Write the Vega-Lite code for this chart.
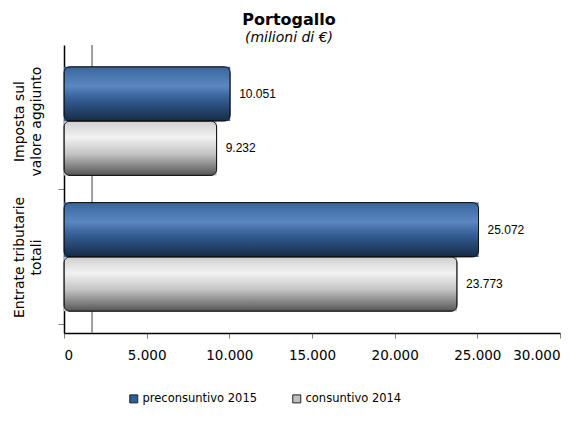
{
  "$schema": "https://vega.github.io/schema/vega-lite/v6.json",
  "width": 496,
  "height": 288,
  "autosize": {"type": "none"},
  "padding": {"left": 64, "top": 45, "right": 20, "bottom": 88},
  "background": "white",
  "config": {
    "locale": {"number": {"decimal": ",", "thousands": ".", "grouping": [3], "currency": ["", " €"]}},
    "view": {"stroke": null},
    "font": "DejaVu Sans"
  },
  "title": {
    "text": "Portogallo",
    "subtitle": "(milioni di €)",
    "font": "DejaVu Sans",
    "fontSize": 16,
    "fontWeight": "bold",
    "color": "black",
    "subtitleFont": "DejaVu Sans",
    "subtitleFontSize": 14,
    "subtitleFontStyle": "italic",
    "subtitleColor": "black",
    "subtitlePadding": 3,
    "anchor": "middle",
    "dx": -23,
    "offset": 0
  },
  "data": {
    "values": [
      {"voce": "Imposta sul valore aggiunto", "serie": "preconsuntivo 2015", "valore": 10051},
      {"voce": "Imposta sul valore aggiunto", "serie": "consuntivo 2014", "valore": 9232},
      {"voce": "Entrate tributarie totali", "serie": "preconsuntivo 2015", "valore": 25072},
      {"voce": "Entrate tributarie totali", "serie": "consuntivo 2014", "valore": 23773}
    ]
  },
  "encoding": {
    "y": {
      "field": "voce",
      "type": "nominal",
      "sort": ["Imposta sul valore aggiunto", "Entrate tributarie totali"],
      "scale": {"paddingInner": 0.2, "paddingOuter": 0.16},
      "axis": {
        "title": null,
        "labelAngle": -90,
        "labelAlign": "center",
        "labelBaseline": "bottom",
        "labelFontSize": 14,
        "labelColor": "black",
        "labelPadding": 32,
        "labelLineHeight": 17,
        "labelExpr": "datum.label == 'Imposta sul valore aggiunto' ? ['Imposta sul', 'valore aggiunto'] : (datum.label == 'Entrate tributarie totali' ? ['Entrate tributarie', 'totali'] : '')",
        "tickOffset": 67.5,
        "labelOffset": -67.5,
        "tickColor": "#808080",
        "tickSize": 6,
        "domainColor": "black",
        "domainWidth": 1.5
      }
    },
    "yOffset": {
      "field": "serie",
      "type": "nominal",
      "sort": ["preconsuntivo 2015", "consuntivo 2014"],
      "scale": {"paddingInner": 0, "paddingOuter": 0}
    },
    "x": {
      "field": "valore",
      "type": "quantitative",
      "scale": {"domain": [0, 30000], "nice": false},
      "axis": {
        "title": null,
        "values": [0, 5000, 10000, 15000, 20000, 25000, 30000],
        "format": ",d",
        "grid": false,
        "labelFontSize": 13.5,
        "labelColor": "black",
        "labelPadding": 10,
        "tickColor": "#808080",
        "tickSize": 5,
        "domainColor": "black",
        "domainWidth": 1.5
      }
    }
  },
  "layer": [
    {
      "mark": {"type": "rule", "color": "#999999", "strokeWidth": 1},
      "encoding": {
        "x": {"datum": 1700, "type": "quantitative"},
        "y": null,
        "yOffset": null
      }
    },
    {
      "mark": {"type": "bar", "opacity": 1},
      "encoding": {
        "color": {
          "field": "serie",
          "type": "nominal",
          "sort": ["preconsuntivo 2015", "consuntivo 2014"],
          "scale": {"domain": ["preconsuntivo 2015", "consuntivo 2014"], "range": ["#2f5f9a", "#c0c0c0"]},
          "legend": {
            "title": null,
            "orient": "none",
            "direction": "horizontal",
            "legendX": 64,
            "legendY": 348,
            "symbolType": "square",
            "symbolSize": 64,
            "symbolStrokeColor": "#222222",
            "symbolStrokeWidth": 1,
            "labelFontSize": 11.5,
            "labelColor": "black",
            "labelOffset": 3,
            "columnPadding": 32
          }
        }
      }
    },
    {
      "transform": [{"filter": "datum.serie == 'preconsuntivo 2015'"}],
      "mark": {
        "type": "bar",
        "cornerRadius": 6,
        "stroke": "#111111",
        "strokeWidth": 1,
        "fill": {
          "gradient": "linear", "x1": 0, "y1": 0, "x2": 0, "y2": 1,
          "stops": [
            {"offset": 0, "color": "#3a659c"},
            {"offset": 0.35, "color": "#5b88c1"},
            {"offset": 0.6, "color": "#335d93"},
            {"offset": 1, "color": "#172a46"}
          ]
        }
      }
    },
    {
      "transform": [{"filter": "datum.serie == 'consuntivo 2014'"}],
      "mark": {
        "type": "bar",
        "cornerRadius": 6,
        "stroke": "#111111",
        "strokeWidth": 1,
        "fill": {
          "gradient": "linear", "x1": 0, "y1": 0, "x2": 0, "y2": 1,
          "stops": [
            {"offset": 0, "color": "#cfcfcf"},
            {"offset": 0.3, "color": "#f2f2f2"},
            {"offset": 0.6, "color": "#c4c4c4"},
            {"offset": 1, "color": "#555555"}
          ]
        }
      }
    },
    {
      "mark": {"type": "text", "align": "left", "baseline": "middle", "dx": 9, "font": "Liberation Sans", "fontSize": 12, "color": "black"},
      "encoding": {
        "text": {"field": "valore", "type": "quantitative", "format": ",d"}
      }
    }
  ]
}
